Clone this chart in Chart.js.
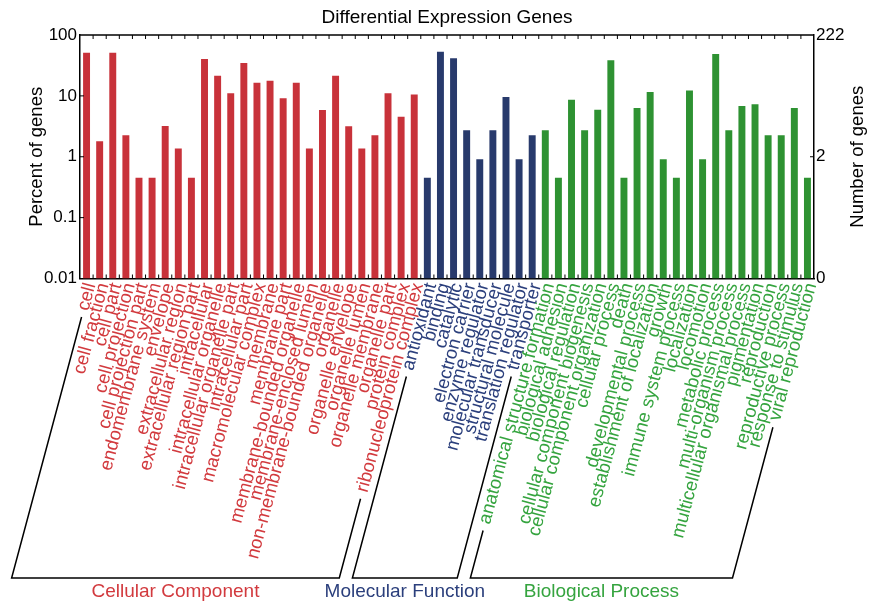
<!DOCTYPE html>
<html>
<head>
<meta charset="utf-8">
<script src="https://cdn.jsdelivr.net/npm/chart.js@4.4.1/dist/chart.umd.min.js"></script>
<style>
  body { margin: 0; background: #fff; }
  #wrap { width: 870px; height: 602px; }
</style>
</head>
<body>
<div id="wrap"><canvas id="goChart" width="870" height="602"></canvas></div>
<script>
const chartTitle = "Differential Expression Genes";

const ccLabels = ["cell", "cell fraction", "cell part", "cell projection", "cell projection part",
  "endomembrane system", "envelope", "extracellular region", "extracellular region part",
  "intracellular", "intracellular organelle", "intracellular organelle part", "intracellular part",
  "macromolecular complex", "membrane", "membrane part", "membrane-bounded organelle",
  "membrane-enclosed lumen", "non-membrane-bounded organelle", "organelle", "organelle envelope",
  "organelle lumen", "organelle membrane", "organelle part", "protein complex",
  "ribonucleoprotein complex"];
const ccPercent = [51.3, 1.8, 51.3, 2.25, 0.45, 0.45, 3.2, 1.36, 0.45, 40.4, 21.5, 11.0, 34.7,
  16.5, 17.8, 9.1, 16.5, 1.36, 5.86, 21.5, 3.16, 1.36, 2.25, 11.0, 4.56, 10.5];

const mfLabels = ["antioxidant", "binding", "catalytic", "electron carrier", "enzyme regulator",
  "molecular transducer", "structural molecule", "translation regulator", "transporter"];
const mfPercent = [0.45, 53.2, 41.4, 2.72, 0.91, 2.72, 9.6, 0.91, 2.25];

const bpLabels = ["anatomical structure formation", "biological adhesion", "biological regulation",
  "cellular component biogenesis", "cellular component organization", "cellular process", "death",
  "developmental process", "establishment of localization", "growth", "immune system process",
  "localization", "locomotion", "metabolic process", "multi-organism process",
  "multicellular organismal process", "pigmentation", "reproduction", "reproductive process",
  "response to stimulus", "viral reproduction"];
const bpPercent = [2.72, 0.45, 8.67, 2.72, 5.94, 38.4, 0.45, 6.33, 11.6, 0.91, 0.45, 12.3, 0.91,
  48.8, 2.72, 6.83, 7.28, 2.25, 2.25, 6.33, 0.45];

const groupNames = ["Cellular Component", "Molecular Function", "Biological Process"];
const barColors = ["#c8323a", "#283a6c", "#2e9232"];
const textColors = ["#d23a3e", "#2b3f7c", "#35a43f"];

const leftTicks = [0.01, 0.1, 1, 10, 100];
const leftTickLabels = ["0.01", "0.1", "1", "10", "100"];
const rightTicks = [0.0222, 2.22, 222];
const rightTickLabels = ["0", "2", "222"];

const FONT = '"Liberation Sans", Arial, sans-serif';
Chart.defaults.font.family = FONT;

const allLabels = ccLabels.concat(mfLabels, bpLabels);
const allValues = ccPercent.concat(mfPercent, bpPercent);
const groupOf = allLabels.map((_, i) => i < ccLabels.length ? 0 : (i < ccLabels.length + mfLabels.length ? 1 : 2));
const groups = [
  { from: 0, to: ccLabels.length - 1 },
  { from: ccLabels.length, to: ccLabels.length + mfLabels.length - 1 },
  { from: ccLabels.length + mfLabels.length, to: allLabels.length - 1 }
];

const tickFontSize = 17;
const xLabelSize = 18.5;
const xTickPadding = 2;
const xLabelShift = 4;
const bracketY = 578;

// title, axis titles, inner ticks, group brackets
const extrasPlugin = {
  id: "extras",
  afterDraw(chart) {
    const { ctx, chartArea: area, scales } = chart;
    const xs = scales.x, yl = scales.yLeft, yr = scales.yRight;
    ctx.save();
    ctx.fillStyle = "#000";
    ctx.font = "19px " + FONT;
    ctx.textAlign = "center";
    ctx.textBaseline = "middle";
    ctx.fillText(chartTitle, (area.left + area.right) / 2, 18);

    ctx.font = "18.5px " + FONT;
    ctx.save();
    ctx.translate(37, (area.top + area.bottom) / 2);
    ctx.rotate(-Math.PI / 2);
    ctx.fillText("Percent of genes", 0, 0);
    ctx.restore();
    ctx.save();
    ctx.translate(858, (area.top + area.bottom) / 2);
    ctx.rotate(-Math.PI / 2);
    ctx.fillText("Number of genes", 0, 0);
    ctx.restore();

    // top frame line
    ctx.strokeStyle = "#000";
    ctx.lineWidth = 1.5;
    ctx.beginPath();
    ctx.moveTo(area.left, area.top);
    ctx.lineTo(area.right, area.top);
    ctx.stroke();

    // inward tick marks
    ctx.lineWidth = 1;
    ctx.beginPath();
    for (let k = 1; k < allLabels.length; k++) {
      const bx = (xs.getPixelForValue(k - 1) + xs.getPixelForValue(k)) / 2;
      ctx.moveTo(bx, area.top); ctx.lineTo(bx, area.top + 4);
      ctx.moveTo(bx, area.bottom); ctx.lineTo(bx, area.bottom - 4);
    }
    leftTicks.slice(1, -1).forEach(v => {
      const py = yl.getPixelForValue(v);
      ctx.moveTo(area.left, py); ctx.lineTo(area.left + 4, py);
    });
    rightTicks.slice(1, -1).forEach(v => {
      const py = yr.getPixelForValue(v);
      ctx.moveTo(area.right, py); ctx.lineTo(area.right - 4, py);
    });
    ctx.stroke();

    // group brackets, parallel to the rotated labels
    const th = xs.labelRotation * Math.PI / 180;
    const c = Math.cos(th), s = Math.sin(th);
    const lh = xLabelSize * 1.2;
    const y0 = xs.top + xTickPadding;
    ctx.font = xLabelSize + "px " + FONT;
    const lineTop = (i) => {
      const L = ctx.measureText(allLabels[i]).width + 7;
      return [xs.getPixelForValue(i) + xLabelShift - L * c, y0 + lh / 2 * c + L * s];
    };
    ctx.lineWidth = 1.5;
    groups.forEach((g, gi) => {
      const a = lineTop(g.from), b = lineTop(g.to);
      const ax = a[0] - (bracketY - a[1]) * c / s;
      const bx = b[0] - (bracketY - b[1]) * c / s;
      ctx.strokeStyle = "#000";
      ctx.beginPath();
      ctx.moveTo(a[0], a[1]);
      ctx.lineTo(ax, bracketY);
      ctx.lineTo(bx, bracketY);
      ctx.lineTo(b[0], b[1]);
      ctx.stroke();
      ctx.fillStyle = textColors[gi];
      ctx.font = "19px " + FONT;
      ctx.textAlign = "center";
      ctx.textBaseline = "middle";
      ctx.fillText(groupNames[gi], (ax + bx) / 2, 592);
      ctx.font = xLabelSize + "px " + FONT;
    });
    ctx.restore();
  }
};

new Chart(document.getElementById("goChart"), {
  type: "bar",
  data: {
    labels: allLabels,
    datasets: [{
      data: allValues,
      yAxisID: "yLeft",
      backgroundColor: groupOf.map(g => barColors[g]),
      borderWidth: 0,
      barPercentage: 0.53,
      categoryPercentage: 1.0
    }]
  },
  options: {
    responsive: false,
    animation: false,
    layout: { padding: { top: 35, left: 0, right: 0, bottom: 0 } },
    plugins: { legend: { display: false }, tooltip: { enabled: false }, title: { display: false } },
    scales: {
      x: {
        type: "category",
        offset: true,
        grid: { display: false, drawTicks: false },
        border: { display: true, color: "#000", width: 1.5 },
        ticks: {
          autoSkip: false,
          minRotation: 75,
          maxRotation: 75,
          padding: xTickPadding,
          labelOffset: xLabelShift,
          font: { size: xLabelSize },
          color: (ctx) => textColors[groupOf[ctx.index]]
        },
        afterFit: (scale) => { scale.height = 323.5; }
      },
      yLeft: {
        type: "logarithmic",
        position: "left",
        min: 0.01,
        max: 100,
        grid: { display: false, drawTicks: false },
        border: { display: true, color: "#000", width: 1.5 },
        afterBuildTicks: (scale) => { scale.ticks = leftTicks.map(v => ({ value: v })); },
        ticks: {
          padding: 3,
          color: "#000",
          font: { size: tickFontSize },
          callback: (value, index) => leftTickLabels[index]
        },
        afterFit: (scale) => { scale.width = 80; }
      },
      yRight: {
        type: "logarithmic",
        position: "right",
        min: rightTicks[0],
        max: rightTicks[rightTicks.length - 1],
        grid: { display: false, drawTicks: false },
        border: { display: true, color: "#000", width: 1.5 },
        afterBuildTicks: (scale) => { scale.ticks = rightTicks.map(v => ({ value: v })); },
        ticks: {
          padding: 2,
          color: "#000",
          font: { size: tickFontSize },
          callback: (value, index) => rightTickLabels[index]
        },
        afterFit: (scale) => { scale.width = 56; }
      }
    }
  },
  plugins: [extrasPlugin]
});
</script>
</body>
</html>
